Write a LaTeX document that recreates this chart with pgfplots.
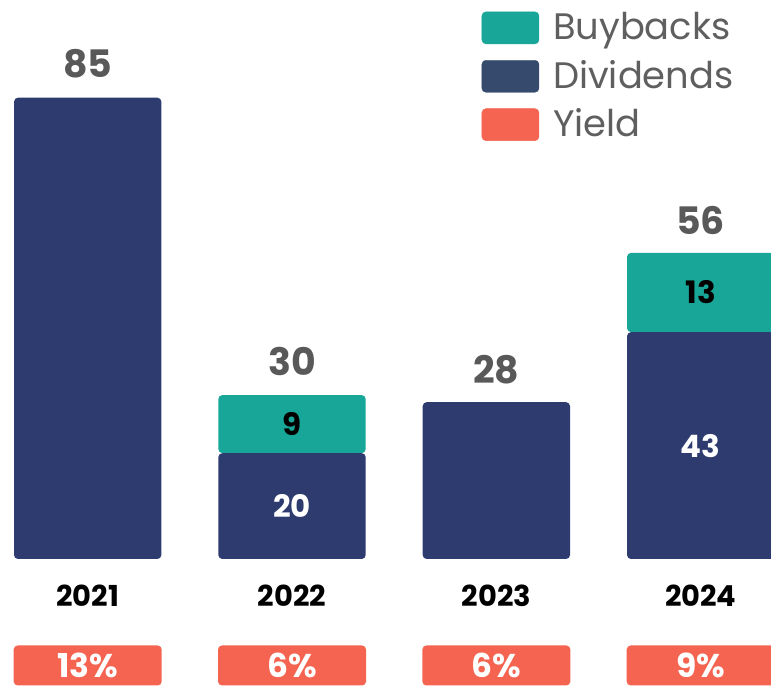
\documentclass[border=0pt]{standalone}
\usepackage{pgfplots}
\pgfplotsset{compat=1.18}
\usepackage{pgfplotstable}
\usepackage{fontspec}
\setmainfont{Poppins}
\definecolor{cNavy}{HTML}{2D3B6E}
\definecolor{cTeal}{HTML}{17A697}
\definecolor{cOrange}{HTML}{F46450}
\definecolor{cLegNavy}{HTML}{354A6C}
\definecolor{cGray}{HTML}{595959}
\definecolor{cLegGray}{HTML}{5F5F5F}

\pgfplotstableread{
x div buy
0 85 0
1 19.5 10.7
2 28.9 0
3 41.8 14.6
}\bars

\pgfplotstableread{
x y lab
0 91.3 85
1 36.4 30
2 34.8 28
3 62.3 56
}\totals

\pgfplotstableread{
x y lab
1 9.75 20
3 20.9 43
}\whitelabels

\pgfplotstableread{
x y lab
1 24.85 9
3 49.1 13
}\blacklabels

\pgfplotstableread{
x y lab
0 -19.62 13
1 -19.62 6
2 -19.62 6
3 -19.62 9
}\yields

\pgfplotsset{lbl/.style={only marks, mark=text, text mark={},
  point meta=explicit symbolic, nodes near coords={\pgfplotspointmeta}}}

\begin{document}
\begin{tikzpicture}
\begin{axis}[
  at={(0,0)}, anchor=south west,
  scale only axis, width=771bp, height=687bp,
  xmin=-0.4292, xmax=3.3441, ymin=-23.586, ymax=103.0,
  ybar stacked, bar width=0.721,
  axis line style={draw=none}, major tick length=0pt,
  ytick=\empty, xtick={0,1,2,3}, xticklabels={2021,2022,2023,2024},
  xticklabel style={font=\bfseries\fontsize{29}{29}\selectfont, text=black, anchor=center, yshift=91.5bp},
  legend cell align=left,
  legend style={at={(0.6248,0.983)}, anchor=north west, draw=none, fill=none,
    inner sep=0pt, outer sep=0pt, /tikz/row sep=16bp, /tikz/column sep=14bp,
    nodes={inner sep=0pt, text depth=0pt, yshift=13bp, text=cLegGray, font=\fontsize{37}{37}\selectfont}},
]
\addlegendimage{legend image code/.code={\fill[cTeal,rounded corners=4bp] (0bp,-5bp) rectangle (57bp,27bp);}}
\addlegendentry{Buybacks}
\addlegendimage{legend image code/.code={\fill[cLegNavy,rounded corners=4bp] (0bp,-5bp) rectangle (57bp,27bp);}}
\addlegendentry{Dividends}
\addlegendimage{legend image code/.code={\fill[cOrange,rounded corners=4bp] (0bp,-5bp) rectangle (57bp,27bp);}}
\addlegendentry{Yield}
\addplot[fill=cNavy, draw=none, rounded corners=4bp, forget plot] table[x=x,y=div]{\bars};
\addplot[fill=cTeal, draw=none, rounded corners=4bp, forget plot] table[x=x,y=buy]{\bars};
\end{axis}
\begin{axis}[
  at={(0,0)}, anchor=south west,
  scale only axis, width=771bp, height=687bp,
  xmin=-0.4292, xmax=3.3441, ymin=-23.586, ymax=103.0,
  hide axis, clip=false,
]
\addplot[lbl, every node near coord/.append style={anchor=center, text=cGray,
    font=\bfseries\fontsize{38}{38}\selectfont}]
  table[x=x,y=y,meta=lab]{\totals};
\addplot[lbl, every node near coord/.append style={anchor=center, text=white,
    font=\bfseries\fontsize{31}{31}\selectfont}]
  table[x=x,y=y,meta=lab]{\whitelabels};
\addplot[lbl, every node near coord/.append style={anchor=center, text=black,
    font=\bfseries\fontsize{31}{31}\selectfont}]
  table[x=x,y=y,meta=lab]{\blacklabels};
\addplot[lbl, nodes near coords={\pgfplotspointmeta\%},
  every node near coord/.append style={anchor=center, text=white,
    fill=cOrange, rounded corners=4bp, minimum width=148bp, minimum height=40bp,
    inner sep=0pt, font=\bfseries\fontsize{33}{33}\selectfont}]
  table[x=x,y=y,meta=lab]{\yields};
\end{axis}
\pgfresetboundingbox
\useasboundingbox (0,0) rectangle (771bp,687bp);
\end{tikzpicture}
\end{document}
